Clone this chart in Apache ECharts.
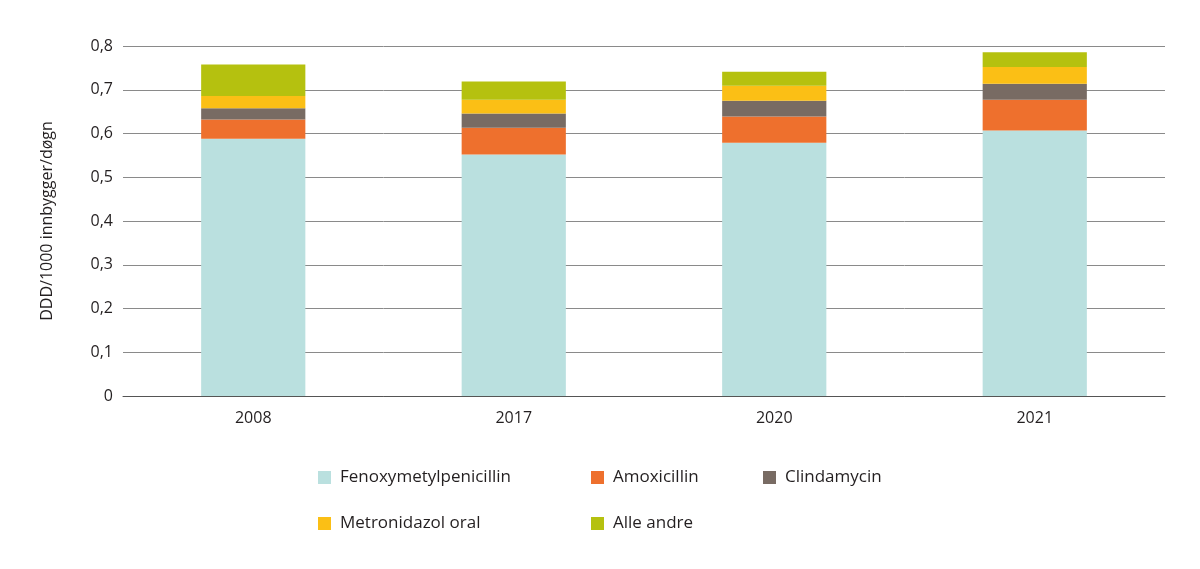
<!DOCTYPE html>
<html>
<head>
<meta charset="utf-8">
<script src="https://cdn.jsdelivr.net/npm/echarts@6/dist/echarts.min.js"></script>
<style>
    html, body {margin: 0; padding: 0; background: #fff;}
    #chart {width: 1200px; height: 569px;}
</style>
</head>
<body>
<div id="chart"></div>
<script>
// data
const years = ['2008', '2017', '2020', '2021'];
const fenoxy = [0.588, 0.552, 0.579, 0.607];
const amoxi = [0.044, 0.061, 0.060, 0.070];
const clinda = [0.026, 0.033, 0.036, 0.037];
const metro = [0.028, 0.031, 0.034, 0.038];
const andre = [0.072, 0.042, 0.032, 0.034];
const yTicks = [0, 0.1, 0.2, 0.3, 0.4, 0.5, 0.6, 0.7, 0.8];

const font = 'Open Sans';
const textColor = '#231f20';

function bar(name, data, color) {
    return {
        name: name,
        type: 'bar',
        stack: 'total',
        barWidth: '40%',
        data: data,
        itemStyle: {color: color}
    };
}

function legendCol(left, names) {
    return {
        orient: 'vertical',
        left: left,
        top: 464,
        itemWidth: 13,
        itemHeight: 13,
        itemGap: 29,
        icon: 'rect',
        data: names,
        textStyle: {fontFamily: font, fontSize: 17, color: textColor, padding: [0, 0, 0, 4]}
    };
}

const chart = echarts.init(document.getElementById('chart'));
chart.setOption({
    animation: false,
    textStyle: {fontFamily: font},
    grid: {left: 123, right: 35, top: 46, bottom: 173},
    legend: [
        legendCol(313, ['Fenoxymetylpenicillin', 'Metronidazol oral']),
        legendCol(586, ['Amoxicillin', 'Alle andre']),
        legendCol(758, ['Clindamycin'])
    ],
    xAxis: {
        type: 'category',
        data: years,
        axisTick: {show: false},
        axisLine: {lineStyle: {color: '#555', width: 1}},
        axisLabel: {fontFamily: font, fontSize: 16, color: textColor, margin: 14}
    },
    yAxis: {
        type: 'value',
        min: 0,
        max: 0.8,
        interval: 0.1,
        name: 'DDD/1000 innbygger/døgn',
        nameLocation: 'middle',
        nameGap: 68,
        nameTextStyle: {fontFamily: font, fontSize: 16, color: textColor},
        axisLine: {show: false},
        axisTick: {show: false},
        splitLine: {lineStyle: {color: '#8a8a8a', width: 1}},
        axisLabel: {
            fontFamily: font, fontSize: 16, color: textColor, margin: 10,
            formatter: function (v) {
                const t = yTicks.find(x => Math.abs(x - v) < 1e-9);
                return t === 0 ? '0' : String(t).replace('.', ',');
            }
        }
    },
    series: [
        bar('Fenoxymetylpenicillin', fenoxy, '#bae0df'),
        bar('Amoxicillin', amoxi, '#ee702d'),
        bar('Clindamycin', clinda, '#786b63'),
        bar('Metronidazol oral', metro, '#fbbf15'),
        bar('Alle andre', andre, '#b5c10f')
    ]
});
</script>
</body>
</html>
